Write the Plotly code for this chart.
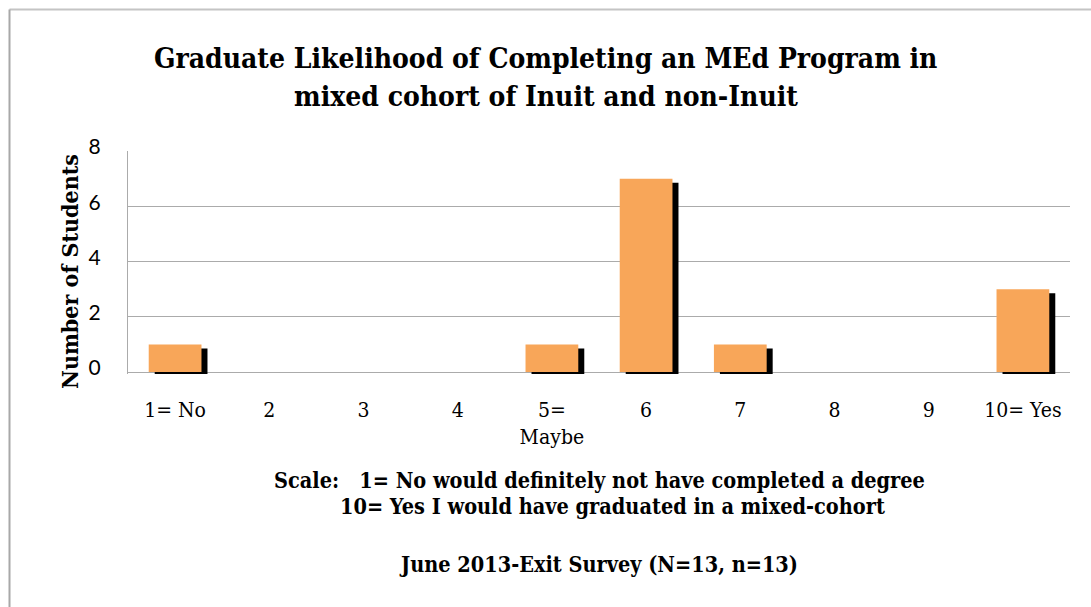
import plotly.graph_objects as go

# ---- data ----
categories = ["1= No", "2", "3", "4", "5=<br>Maybe", "6", "7", "8", "9", "10= Yes"]
students = [1, 0, 0, 0, 1, 7, 1, 0, 0, 3]
y_ticks = [0, 2, 4, 6, 8]
title_lines = ["Graduate Likelihood of Completing an MEd Program in",
               "mixed cohort of Inuit and non-Inuit"]
y_title = "Number of Students"
scale_lines = ["Scale:   1= No would definitely not have completed a degree",
               "10= Yes I would have graduated in a mixed-cohort"]
survey_note = "June 2013-Exit Survey (N=13, n=13)"

# ---- geometry (pixels) ----
W, H = 1091, 607
PL, PR = 128, 1070          # plot area left/right
PT, PZ = 151, 372           # y=8 pixel, y=0 pixel
PB = 374                    # plot area bottom (slightly below zero)
ymax = 8
unit = (PZ - PT) / ymax
ymin = -(PB - PZ) / unit

def px_x(px):
    return (px - PL) / (PR - PL)

def px_y(py):
    return (PB - py) / (PB - PT)

SERIF = "DejaVu Serif Condensed"
SANS = "Lato"

bar_w = 0.56
shadow_dx = 6 / ((PR - PL) / len(categories))
shadow_dy = 4 / unit
below = (PB - PZ) / unit

shadow_vals = [v - shadow_dy + below if v > 0 else None for v in students]

fig = go.Figure()
fig.add_trace(go.Bar(
    x=categories, y=shadow_vals, base=-below,
    width=bar_w, offset=-bar_w / 2 + shadow_dx,
    marker=dict(color="#000000", line=dict(width=0)),
    hoverinfo="skip", showlegend=False,
))
fig.add_trace(go.Bar(
    x=categories, y=students,
    width=bar_w, offset=-bar_w / 2,
    marker=dict(color="#F8A659", line=dict(width=0)),
    showlegend=False,
))

fig.update_layout(
    width=W, height=H,
    margin=dict(l=PL, r=W - PR, t=PT, b=H - PB, autoexpand=False),
    paper_bgcolor="white", plot_bgcolor="white",
    barmode="overlay",
    font=dict(family=SERIF, color="black"),
)
fig.update_xaxes(
    type="category", categoryorder="array", categoryarray=categories,
    range=[-0.5, len(categories) - 0.5],
    showgrid=False, showline=False, zeroline=False, ticks="",
    tickfont=dict(family=SERIF, size=21, color="black"),
    ticklabelstandoff=21,
)
fig.update_yaxes(
    range=[ymin, ymax], tickvals=y_ticks, ticktext=[str(t) for t in y_ticks],
    showgrid=True, gridcolor="#ABABAB", gridwidth=1,
    zeroline=False, showline=True, linecolor="#ABABAB", linewidth=1,
    ticks="", tickfont=dict(family=SANS, size=21, color="black"),
    ticklabelstandoff=22, ticklabelshift=-4,
)

ann = []
ann.append(dict(text="<b>" + title_lines[0] + "</b>", x=px_x(545.5), y=px_y(59),
                font=dict(family=SERIF, size=28)))
ann.append(dict(text="<b>" + title_lines[1] + "</b>", x=px_x(545.5), y=px_y(96),
                font=dict(family=SERIF, size=28)))
ann.append(dict(text="<b>" + y_title + "</b>", x=px_x(69), y=px_y(272),
                textangle=-90, font=dict(family=SERIF, size=23)))
ann.append(dict(text="<b>" + scale_lines[0] + "</b>", x=px_x(599), y=px_y(480),
                font=dict(family=SERIF, size=21.5)))
ann.append(dict(text="<b>" + scale_lines[1] + "</b>", x=px_x(612.5), y=px_y(506),
                font=dict(family=SERIF, size=21.5)))
ann.append(dict(text="<b>" + survey_note + "</b>", x=px_x(598.5), y=px_y(564),
                font=dict(family=SERIF, size=21.5)))
for a in ann:
    a.update(xref="paper", yref="paper", showarrow=False,
             xanchor="center", yanchor="middle")
fig.update_layout(annotations=ann)

fig.add_shape(type="line", xref="paper", yref="paper",
              x0=px_x(9.5), x1=px_x(1200), y0=px_y(9.5), y1=px_y(9.5),
              line=dict(color="#C4C4C4", width=2))
fig.add_shape(type="line", xref="paper", yref="paper",
              x0=px_x(9.5), x1=px_x(9.5), y0=px_y(9.5), y1=px_y(700),
              line=dict(color="#A8A8A8", width=2))

fig.write_html("out.html", config={"displayModeBar": False},
               post_script="document.body.style.margin='0px';")
